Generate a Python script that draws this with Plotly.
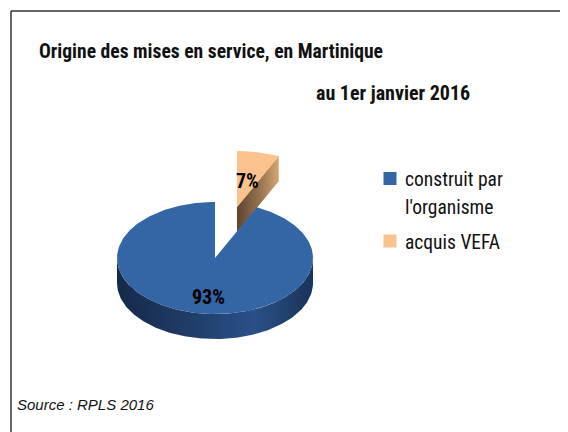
import math
import plotly.graph_objects as go

# ---- data ----
categories = ["construit par l'organisme", "acquis VEFA"]
legend_lines = [["construit par", "l'organisme"], ["acquis VEFA"]]
values = [93, 7]
title_line1 = "Origine des mises en service, en Martinique"
title_line2 = "au 1er janvier 2016"
source_text = "Source : RPLS 2016"

# ---- style / geometry ----
W, H = 568, 432
OFF = 8  # page body margin
CX, CY = 215, 258
RX, RY = 98, 56
DEPTH = 25
EXPLODE = (22, -51)
FONT_N = "Liberation Sans Narrow, Roboto Condensed, Liberation Sans, Arial"
top_colors = ["#3465A4", "#FAC28D"]

total = sum(values)
order = [1, 0]
angles = {}
start = 0.0
for i in order:
    span = 2 * math.pi * values[i] / total
    angles[i] = (start, start + span)
    start += span


def pt(theta, dx=0.0, dy=0.0, down=0.0):
    return (CX + dx + RX * math.sin(theta), CY + dy + down - RY * math.cos(theta))


def arc(t0, t1, n=120, dx=0.0, dy=0.0, down=0.0):
    return [pt(t0 + (t1 - t0) * k / n, dx, dy, down) for k in range(n + 1)]


fig = go.Figure()

# ---- VEFA slice (exploded, behind) ----
t0, t1 = angles[1]
ex, ey = EXPLODE
A_top = (CX + ex, CY + ey)
A_bot = (CX + ex, CY + ey + DEPTH)
C_top = pt(t1, ex, ey)
C_bot = pt(t1, ex, ey, DEPTH)
face = [A_top, C_top, C_bot, A_bot, A_top]
fig.add_trace(go.Scatter(
    x=[p[0] for p in face], y=[p[1] for p in face], mode="lines",
    fill="toself", line=dict(width=0), hoverinfo="skip", showlegend=False,
    fillgradient=dict(type="horizontal",
                      colorscale=[[0, "#5E4530"], [0.6, "#9C7852"], [1, "#D6A674"]])))
top = [A_top] + arc(t0, t1, 30, ex, ey) + [A_top]
fig.add_trace(go.Scatter(
    x=[p[0] for p in top], y=[p[1] for p in top], mode="lines",
    fill="toself", fillcolor=top_colors[1], line=dict(width=0),
    hoverinfo="skip", showlegend=False))

# ---- main slice ----
b0, b1 = angles[0]
wall_top = arc(math.pi / 2, 3 * math.pi / 2, 160)
wall_bot = arc(3 * math.pi / 2, math.pi / 2, 160, down=DEPTH)
wall = wall_top + wall_bot + [wall_top[0]]
fig.add_trace(go.Scatter(
    x=[p[0] for p in wall], y=[p[1] for p in wall], mode="lines",
    fill="toself", line=dict(width=0), hoverinfo="skip", showlegend=False,
    fillgradient=dict(type="horizontal",
                      colorscale=[[0, "#16294A"], [0.35, "#1F3B66"], [0.7, "#2A5089"], [1, "#1A3358"]])))
btop = [(CX, CY)] + arc(b0, b1, 300) + [(CX, CY)]
fig.add_trace(go.Scatter(
    x=[p[0] for p in btop], y=[p[1] for p in btop], mode="lines",
    fill="toself", fillcolor=top_colors[0], line=dict(width=0),
    hoverinfo="skip", showlegend=False))

# ---- value labels ----
label_pos = [(208, 297), (247, 181)]
for i in range(len(values)):
    fig.add_annotation(x=label_pos[i][0], y=label_pos[i][1], text=f"<b>{values[i]}%</b>",
                       showarrow=False, font=dict(family=FONT_N, size=20, color="#000000"))

# ---- legend ----
leg_marker_y = [178.5, 241]
fig.add_trace(go.Scatter(
    x=[390, 390], y=leg_marker_y, mode="markers",
    marker=dict(symbol="square", size=13, color=top_colors, line=dict(width=0)),
    hoverinfo="skip", showlegend=False))
leg_text_y = [[179, 207], [242]]
for i in range(len(categories)):
    for line, yy in zip(legend_lines[i], leg_text_y[i]):
        fig.add_annotation(x=403, y=yy, text=line, showarrow=False,
                           xanchor="left", yanchor="middle", align="left",
                           font=dict(family=FONT_N, size=19.5, color="#111111"))

# ---- titles ----
fig.add_annotation(x=37, y=51, text=f"<b>{title_line1}</b>", showarrow=False,
                   xanchor="left", yanchor="middle",
                   font=dict(family=FONT_N, size=19.6, color="#111111"))
fig.add_annotation(x=314, y=93, text=f"<b>{title_line2}</b>", showarrow=False,
                   xanchor="left", yanchor="middle",
                   font=dict(family=FONT_N, size=20, color="#111111"))
fig.add_annotation(x=15, y=404, text=f"<i>{source_text}</i>", showarrow=False,
                   xanchor="left", yanchor="middle",
                   font=dict(family="Liberation Sans, Arial", size=15, color="#111111"))

# ---- frame ----
fig.add_shape(type="line", x0=11, y0=11, x1=W + 2, y1=11, line=dict(color="#333333", width=1.5))
fig.add_shape(type="line", x0=11, y0=11, x1=11, y1=H + 2, line=dict(color="#333333", width=1.5))

fig.update_layout(
    width=W - OFF, height=H - OFF, margin=dict(l=0, r=0, t=0, b=0),
    paper_bgcolor="white", plot_bgcolor="white",
    xaxis=dict(range=[OFF, W], visible=False, fixedrange=True),
    yaxis=dict(range=[H, OFF], visible=False, fixedrange=True),
    showlegend=False,
)
fig.write_html("out.html")
